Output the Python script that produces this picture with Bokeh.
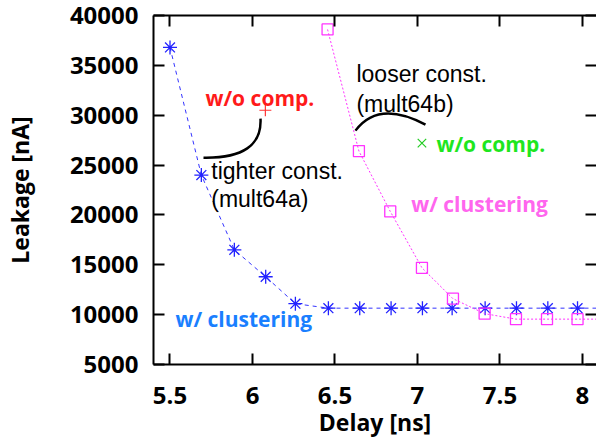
from bokeh.plotting import figure
from bokeh.models import LinearAxis, FixedTicker, Range1d
from bokeh.core.properties import value
from bokeh.embed import file_html
from bokeh.resources import INLINE

# ---- data ----
blue_x = [5.5, 5.69, 5.89, 6.08, 6.26, 6.46, 6.65, 6.84, 7.03, 7.21, 7.41, 7.6, 7.79, 7.97, 8.16]
blue_y = [36800, 24000, 16500, 13800, 11100, 10650, 10650, 10650, 10650, 10650, 10650, 10650, 10650, 10650, 10650]
mag_x = [6.455, 6.645, 6.835, 7.027, 7.215, 7.407, 7.597, 7.785, 7.97, 8.16]
mag_y = [38600, 26400, 20350, 14700, 11600, 10100, 9550, 9550, 9550, 9550]
red_x = [6.078]
red_y = [30500]
green_x = [7.027]
green_y = [27200]
x_ticks = [5.5, 6, 6.5, 7, 7.5, 8]
x_tick_labels = ["5.5", "6", "6.5", "7", "7.5", "8"]
y_ticks = [5000, 10000, 15000, 20000, 25000, 30000, 35000, 40000]
y_tick_labels = ["5000", "10000", "15000", "20000", "25000", "30000", "35000", "40000"]

BOLD = "Open Sans"
PLAIN = "Liberation Sans"

p = figure(width=596, height=441, output_backend="svg", toolbar_location=None,
           x_range=Range1d(5.4, 8.085), y_range=Range1d(5000, 40000),
           min_border_left=153, min_border_top=15, min_border_bottom=77, min_border_right=0)
p.outline_line_color = None
p.xgrid.visible = False
p.ygrid.visible = False
p.background_fill_color = "white"

def style_axis(ax, labels=True):
    ax.axis_line_width = 2
    ax.axis_line_color = "black"
    ax.major_tick_in = 11
    ax.major_tick_out = 0
    ax.major_tick_line_width = 2
    ax.major_tick_line_color = "black"
    ax.minor_tick_line_color = None
    if labels:
        ax.major_label_text_font = BOLD
        ax.major_label_text_font_style = "bold"
        ax.major_label_text_font_size = "24px"
        ax.major_label_text_color = "black"
    else:
        ax.major_label_overrides = {t: "" for t in ax.ticker.ticks}
        ax.major_label_text_font_size = "1px"
        ax.major_label_text_color = None
        ax.major_label_standoff = 0

xa = p.xaxis[0]
ya = p.yaxis[0]
xa.ticker = FixedTicker(ticks=x_ticks)
xa.major_label_overrides = {t: l for t, l in zip(x_ticks, x_tick_labels)}
ya.ticker = FixedTicker(ticks=y_ticks)
ya.major_label_overrides = {t: l for t, l in zip(y_ticks, y_tick_labels)}
style_axis(xa)
style_axis(ya)
xa.major_label_standoff = 22
ya.major_label_standoff = 15
xa.axis_label = "Delay [ns]"
ya.axis_label = "Leakage [nA]"
for ax in (xa, ya):
    ax.axis_label_text_font = BOLD
    ax.axis_label_text_font_style = "bold"
    ax.axis_label_text_font_size = "23px"
    ax.axis_label_text_color = "black"
xa.axis_label_standoff = -1
ya.axis_label_standoff = 31

top = LinearAxis(ticker=FixedTicker(ticks=x_ticks))
style_axis(top, labels=False)
p.add_layout(top, "above")
right = LinearAxis(ticker=FixedTicker(ticks=y_ticks))
style_axis(right, labels=False)
right.axis_line_color = None
p.add_layout(right, "right")

# series
p.line(blue_x, blue_y, line_color="#3333ff", line_width=1, line_dash="4 4")
p.scatter(blue_x, blue_y, marker="asterisk", size=14, line_color="#2222ff", line_width=1.3)
p.line(mag_x, mag_y, line_color="#ff33ff", line_width=1, line_dash="2 2")
p.scatter(mag_x, mag_y, marker="square", size=11, fill_color=None, line_color="#ff33ff", line_width=1.3)
p.scatter(red_x, red_y, marker="cross", size=12, line_color="#ff3333", line_width=1.2)
p.scatter(green_x, green_y, marker="x", size=12, line_color="#22cc22", line_width=1.2)

# annotations
def txt(x, y, s, color, font, bold, size):
    p.text([x], [y], text=[s], text_color=color, text_font=value(font),
           text_font_style="bold" if bold else "normal", text_font_size=value(size),
           text_align="left", text_baseline="middle")

txt(5.715, 31770, "w/o comp.", "#ff1a1a", BOLD, True, "21px")
txt(5.750, 24440, "tighter const.", "black", PLAIN, False, "23px")
txt(5.750, 21630, "(mult64a)", "black", PLAIN, False, "23px")
txt(6.630, 34180, "looser const.", "black", PLAIN, False, "23px")
txt(6.630, 31165, "(mult64b)", "black", PLAIN, False, "23px")
txt(7.115, 27150, "w/o comp.", "#1ee61e", BOLD, True, "21px")
txt(6.962, 21125, "w/ clustering", "#ff66ee", BOLD, True, "21px")
txt(5.533, 9580, "w/ clustering", "#1a7fff", BOLD, True, "21px")

p.quadratic(x0=[6.0485], y0=[29659], x1=[5.703], y1=[25743], cx=[6.0606], cy=[25643],
            line_color="black", line_width=2.5)
p.quadratic(x0=[6.624], y0=[28454], x1=[7.0485], y1=[29056], cx=[6.7636], cy=[31567],
            line_color="black", line_width=2.5)

open("out.html", "w").write(file_html(p, INLINE))
